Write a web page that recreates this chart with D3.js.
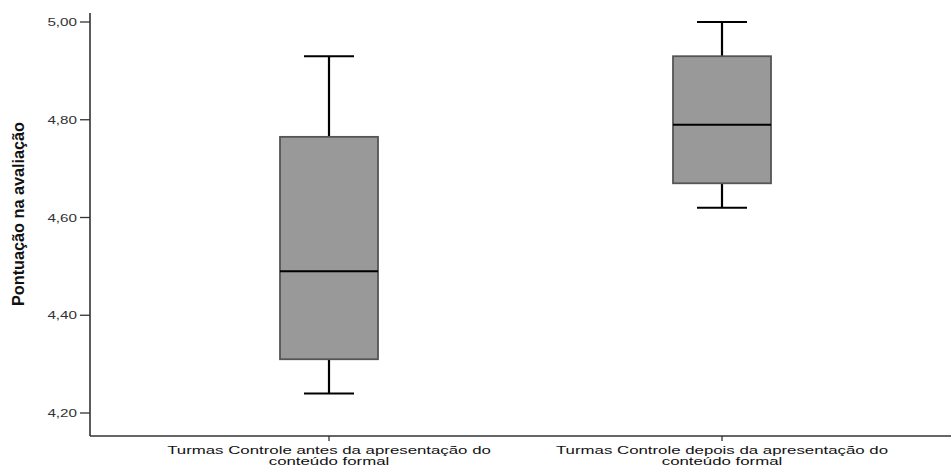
<!DOCTYPE html>
<html>
<head>
<meta charset="utf-8">
<script src="https://cdn.jsdelivr.net/npm/d3@7"></script>
<style>
  html, body { margin: 0; padding: 0; background: #fff; }
  svg { display: block; }
  text { font-family: "Liberation Sans", Arial, sans-serif; }
</style>
</head>
<body>
<svg id="chart" width="951" height="468"></svg>
<script>
// ---- Data ----
const categories = [
  ["Turmas Controle antes da apresentação do", "conteúdo formal"],
  ["Turmas Controle depois da apresentação do", "conteúdo formal"]
];
const whiskerLow  = [4.24, 4.62];
const q1          = [4.31, 4.67];
const median      = [4.49, 4.79];
const q3          = [4.765, 4.93];
const whiskerHigh = [4.93, 5.00];
const yTicks = [4.20, 4.40, 4.60, 4.80, 5.00];
const yLabel = "Pontuação na avaliação";

// ---- Layout ----
const svg = d3.select("#chart");
const axisX = 90, axisY = 436, axisTop = 13, axisRight = 951;
const boxW = 98, capW = 50;

const y = d3.scaleLinear().domain([4.2, 5.0]).range([413, 22]);
const x = d3.scalePoint().domain(d3.range(categories.length)).range([329, 722]);
const fmt = v => d3.format(".2f")(v).replace(".", ",");

// axes lines
svg.append("line").attr("x1", axisX).attr("x2", axisX).attr("y1", axisTop).attr("y2", axisY)
  .attr("stroke", "#333").attr("stroke-width", 1.6);
svg.append("line").attr("x1", axisX).attr("x2", axisRight).attr("y1", axisY).attr("y2", axisY)
  .attr("stroke", "#333").attr("stroke-width", 1.6);

// y ticks
const yt = svg.append("g");
yTicks.forEach(t => {
  yt.append("line").attr("x1", axisX - 10).attr("x2", axisX).attr("y1", y(t)).attr("y2", y(t))
    .attr("stroke", "#333").attr("stroke-width", 1.3);
  yt.append("text")
    .attr("transform", `translate(${axisX - 13},${y(t) + 4}) scale(1.45,1)`)
    .attr("text-anchor", "end").attr("font-size", 10.5).attr("fill", "#333")
    .text(fmt(t));
});

// x ticks and labels
categories.forEach((lines, i) => {
  const cx = x(i);
  svg.append("line").attr("x1", cx).attr("x2", cx).attr("y1", axisY).attr("y2", axisY + 5)
    .attr("stroke", "#333").attr("stroke-width", 1.3);
  lines.forEach((ln, j) => {
    svg.append("text")
      .attr("transform", `translate(${cx},${454 + j * 10.5}) scale(1.53,1)`)
      .attr("text-anchor", "middle").attr("font-size", 11).attr("fill", "#111")
      .text(ln);
  });
});

// y label
svg.append("text")
  .attr("transform", `translate(24,214) rotate(-90)`)
  .attr("text-anchor", "middle")
  .attr("font-size", 17).attr("font-weight", "bold")
  .attr("font-family", "'Liberation Sans Narrow', 'Liberation Sans', Arial, sans-serif")
  .attr("fill", "#111")
  .attr("textLength", 184).attr("lengthAdjust", "spacingAndGlyphs")
  .text(yLabel);

// boxes
categories.forEach((c, i) => {
  const cx = x(i);
  const g = svg.append("g");
  g.append("line").attr("x1", cx).attr("x2", cx).attr("y1", y(whiskerHigh[i])).attr("y2", y(q3[i]))
    .attr("stroke", "#000").attr("stroke-width", 2.2);
  g.append("line").attr("x1", cx).attr("x2", cx).attr("y1", y(q1[i])).attr("y2", y(whiskerLow[i]))
    .attr("stroke", "#000").attr("stroke-width", 2.2);
  g.append("line").attr("x1", cx - capW / 2).attr("x2", cx + capW / 2)
    .attr("y1", y(whiskerHigh[i])).attr("y2", y(whiskerHigh[i]))
    .attr("stroke", "#000").attr("stroke-width", 2);
  g.append("line").attr("x1", cx - capW / 2).attr("x2", cx + capW / 2)
    .attr("y1", y(whiskerLow[i])).attr("y2", y(whiskerLow[i]))
    .attr("stroke", "#000").attr("stroke-width", 2);
  g.append("rect").attr("x", cx - boxW / 2).attr("width", boxW)
    .attr("y", y(q3[i])).attr("height", y(q1[i]) - y(q3[i]))
    .attr("fill", "#999999").attr("stroke", "#555").attr("stroke-width", 1.8);
  g.append("line").attr("x1", cx - boxW / 2).attr("x2", cx + boxW / 2)
    .attr("y1", y(median[i])).attr("y2", y(median[i]))
    .attr("stroke", "#000").attr("stroke-width", 2);
});
</script>
</body>
</html>
